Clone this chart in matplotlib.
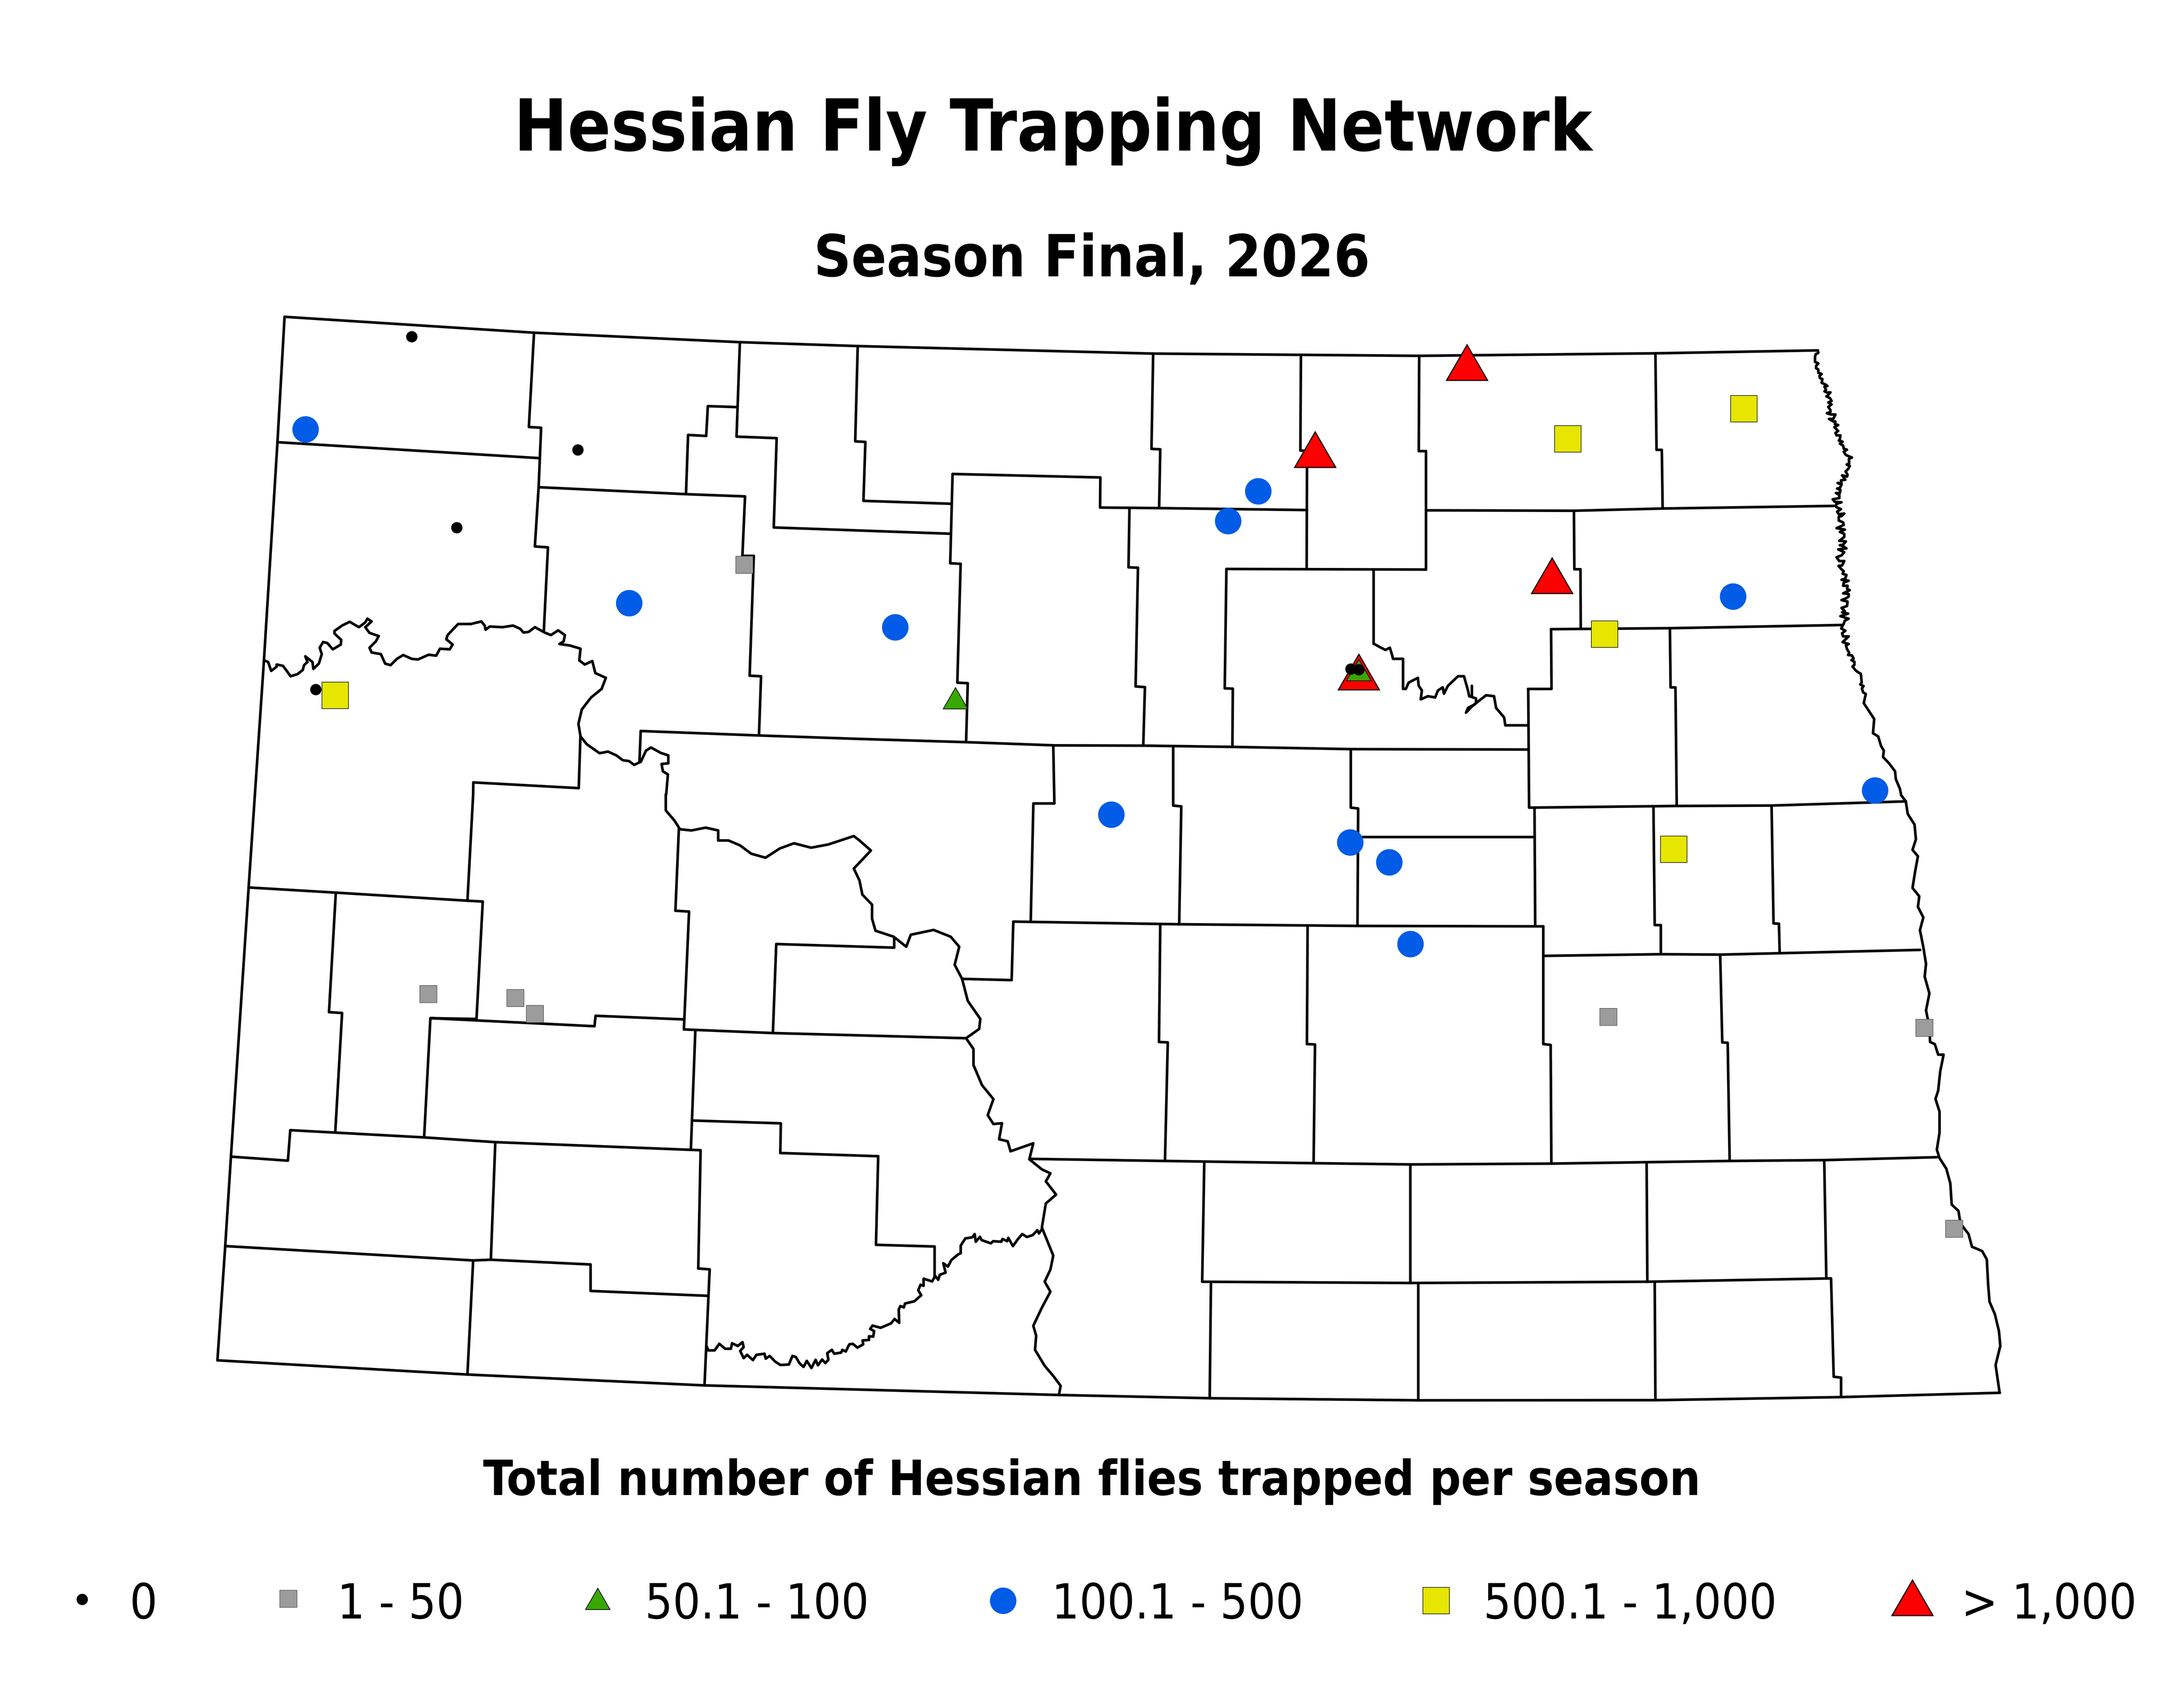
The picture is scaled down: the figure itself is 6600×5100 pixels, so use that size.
import matplotlib
matplotlib.use("Agg")
import matplotlib.pyplot as plt

W, H = 1568, 1211.6

def crop(pts, x0, y0, w, h, out_w=1568, out_h=1568):
    return [((x0 + a * w / out_w) * W / 6600, (y0 + b * h / out_h) * H / 5100) for a, b in pts]

county_lines = [
    [(204.3,227.4),(383.4,238.8),(531.2,245.6),(615.8,248.4),(827.9,253.8),(934,254.7),(1018.9,255.4),(1188.5,253.6),(1304.5,251.5)],
    [(204.3,227.4),(199.2,317.4),(189.5,474),(178.5,637),(165.8,830.2),(161.7,894.4),(156.1,976.4)],
    [(156.1,976.4),(335.6,986.6),(505.8,994.4),(761.3,1001.3),(868.5,1003.6),(1018.3,1005.1),(1188.5,1005),(1321.8,1002.8),(1435.8,999.7)],
    [(199.2,317.4),(386.7,328.8)],
    [(383.4,238.8),(379.7,306.5),(388.5,307),(386.7,349.7),(384,392.2),(393.4,392.9),(390.4,453.6)],
    [(386.7,349.7),(492.5,354.7),(534.9,356.3),(533,399),(541.2,399),(538.2,485),(546.4,485.4),(544.9,527.9)],
    [(492.5,354.7),(494,312.2),(507,312.9),(508.2,291.5),(528.8,292.2)],
    [(531.2,245.6),(528.8,313.4),(557.6,314.5),(555.5,378.6),(682.4,383.1)],
    [(615.8,248.4),(614,316.8),(621.3,317.2),(619.9,359.5),(683.1,361.6)],
    [(460,524.7),(544.9,527.9),(617.6,530.4),(693.6,532.7),(757.1,535),(820.8,535.2),(884.8,536.1),(969.7,537.7),(1097.2,538)],
    [(460,524.7),(459.1,546.8)],
    [(416.7,528.6),(415.5,565.7),(339.8,561.6),(339.7,570.2),(335.6,646.5)],
    [(178.5,637),(241.1,640.7),(335.6,646.5),(346.6,647.1),(342.1,731.4),(309,730.8),(426.8,736.6),(427.6,729.1),(491,731.7)],
    [(241.1,640.7),(236.2,726.5),(245.6,727.1),(240.7,812.6)],
    [(309,730.8),(304.5,816.4)],
    [(487.4,594.7),(484.9,653.7),(494.7,654.3),(491,738.9),(554.9,741.5),(693.6,745.2)],
    [(554.9,741.5),(557.3,677.6),(642,680.2),(642,673.3)],
    [(499.2,740),(496,825.3)],
    [(165.8,830.2),(206.7,833.1),(208.4,811.2),(304.5,816.4),(355.6,819.8),(503,825.6),(501.3,910.5),(509.5,911.1),(505.8,994.4)],
    [(355.6,819.8),(352.4,904.2)],
    [(161.7,894.4),(339.7,904.7),(352.4,904.2),(424,907.6),(424,926.6),(507.8,930.1)],
    [(339.7,904.7),(335.6,986.6)],
    [(497.6,804.3),(560.6,806.3),(560.2,827.6),(630.5,829.9),(628.9,893.5),(671,894.7),(671,917.1)],
    [(690.7,702.6),(726.3,703.5),(727.5,661.5),(846.1,663.4),(974.6,664.6),(1108,664.9)],
    [(756.2,536),(757,576.7),(741.9,576.7),(740,661.5)],
    [(842.3,536),(842.3,578.2),(848.1,578.8),(846.6,663.4)],
    [(969.8,537.7),(969.8,579.7),(975.1,580.3),(974.6,664)],
    [(977,600.9),(1101.7,600.9)],
    [(1097.2,494.5),(1097.8,579.7),(1203.5,578.5),(1271.9,578.2),(1368.4,575.2)],
    [(1101.7,580.3),(1102.2,664.6)],
    [(1108,664.9),(1108,749.4),(1113.3,750),(1113.8,835.2)],
    [(1108,686.1),(1192.4,684.9),(1235,685.2),(1378.6,681.8)],
    [(1187.1,579.7),(1188,664),(1192.4,664),(1192.4,684.9)],
    [(1271.9,578.2),(1273.3,662.8),(1277.2,663),(1277.7,683.4)],
    [(1235,685.2),(1236.5,748.2),(1240.4,748.5),(1241.8,833.3)],
    [(833,664),(832.1,747.9),(838.4,748.2),(836.4,833)],
    [(938.8,665.2),(938.3,749.4),(944.1,749.7),(943.1,834.6)],
    [(739.5,831.8),(836.4,833.3),(943.1,834.9),(1013.4,835.8),(1113.8,835.2),(1241.8,833.3),(1309.7,832.7),(1390.7,830.6)],
    [(864.6,834.6),(863.1,920),(1012.5,920.9),(1182.7,920),(1314.6,917.6),(1316.5,988.2),(1321.8,988.8),(1321.8,1002.8)],
    [(1012.5,835.8),(1012.5,920.9)],
    [(1182.2,835.2),(1182.7,920)],
    [(1309.7,832.7),(1311.2,917.6)],
    [(869.4,921.2),(868.5,1003.6)],
    [(1018.3,921.2),(1018.3,1005.1)],
    [(1188,920.6),(1188.5,1005)],
    [(683.9,340.2),(790,342.7),(789.8,364.3),(832.2,364.7),(938.4,366.1)],
    [(683.9,340.2),(682.2,404.3),(689.7,404.7),(687.3,490),(694.8,490.4),(693.6,532.7)],
    [(827.9,253.8),(826.7,322.2),(833,322.5),(832.2,364.7)],
    [(934,254.7),(933.6,323.4),(938.4,323.6),(938.1,408.6)],
    [(810.9,364.7),(810.2,407.2),(817,407.5),(815.3,492.7),(822,493.2),(820.8,535.2)],
    [(880.5,408.4),(879.3,494.1),(885.1,494.3),(884.8,536.1)],
    [(880.5,408.4),(1023.8,408.8)],
    [(986.2,409.3),(986.2,462)],
    [(1018.9,255.4),(1018.6,323.8),(1023.8,323.8),(1023.8,408.8)],
    [(1023.8,366.3),(1130,366.6),(1193.7,365),(1318,363.1)],
    [(1130,366.6),(1130.3,408.6),(1134.7,408.6),(1134.9,451.3)],
    [(1188.5,253.6),(1189.3,322.9),(1193.1,322.9),(1193.7,365)],
    [(1113.6,451.6),(1198.9,450.9),(1323.2,448.6)],
    [(1113.6,451.6),(1113.9,494.5),(1097,494.5)],
    [(1198.9,450.9),(1199.4,493.4),(1202.9,493.4),(1203.8,578.5)],
]

# crop boxes the traces below were read from
crop_nw = (600, 900, 2000, 1500)
crop_mid = (2600, 900, 1600, 1500)
crop_ne = (4200, 900, 1900, 1500)
crop_sw = (600, 2400, 2700, 1900)
crop_se = (3000, 2300, 3200, 2000)
crop_red_a = (5450, 1040, 300, 600, 900, 1568)
crop_red_b = (5450, 1500, 300, 600, 900, 1568)
crop_lake = (2100, 3700, 1100, 450, 1568, 1350)

red_river_a = [(130,48),(135,68),(110,80),(105,100),(105,140),(135,152),(115,170),(115,190),(135,200),(135,225),(165,235),(145,250),(150,268),(172,275),(165,305),(200,318),(218,330),(190,335),(205,360),(190,372),(215,382),(245,380),(225,400),(208,412),(240,425),(255,448),(225,460),(255,475),(225,495),(245,520),(245,535),(212,545),(250,555),(290,555),(270,590),(232,590),(270,610),(290,610),(285,630),(315,638),(280,655),(315,685),(290,700),(300,720),(335,720),(330,750),(320,760),(355,770),(330,785),(360,800),(365,825),(395,833),(365,848),(385,875),(405,882),(440,895),(412,905),(415,940),(392,950),(420,960),(405,985),(382,1005),(400,1030),(395,1045),(350,1035),(380,1070),(340,1075),(345,1100),(310,1095),(345,1110),(330,1135),(305,1140),(335,1150),(330,1175),(295,1175),(325,1190),(325,1215),(265,1225),(285,1245),(345,1248),(300,1260),(295,1280)]
red_river_b = [(300,85),(340,100),(305,120),(320,140),(370,135),(345,155),(320,160),(320,190),(360,205),(365,225),(300,250),(375,262),(330,280),(370,295),(370,320),(325,350),(385,355),(360,380),(330,385),(365,395),(390,410),(315,418),(370,440),(345,465),(300,480),(325,510),(370,510),(350,545),(318,548),(345,575),(365,590),(355,610),(390,620),(378,650),(345,658),(410,665),(365,680),(360,705),(400,705),(395,730),(420,740),(360,765),(410,770),(410,790),(385,805),(345,818),(400,830),(395,865),(345,880),(375,905),(350,915),(405,925),(335,945),(410,965),(375,980),(365,1005),(342,1042),(380,1060),(350,1080),(360,1105),(410,1105),(355,1150),(410,1165),(385,1175),(395,1205),(415,1235),(405,1252),(440,1255),(455,1280),(435,1292),(462,1305),(462,1330),(445,1342),(470,1370),(490,1385),(520,1400),(525,1440),(528,1470),(515,1485),(545,1497),(530,1515),(540,1545),(565,1560)]
red_river_c = [(1187,1251),(1182,1280),(1195,1305),(1208,1330),(1205,1375),(1218,1385),(1225,1415),(1232,1430),(1230,1450),(1245,1470),(1260,1495),(1262,1520),(1272,1550),(1275,1568)]
red_river_south = [(1345,80),(1352,95),(1355,125),(1365,150),(1367,185),(1362,210),(1370,225),(1366,260),(1362,300),(1372,320),(1370,345),(1378,370),(1373,400),(1378,440),(1382,480),(1380,510),(1387,550),(1382,590),(1387,630),(1388,665),(1395,670),(1400,695),(1408,695),(1403,735),(1400,780),(1396,800),(1402,830),(1402,880),(1398,920),(1402,940),(1412,965),(1418,1000),(1420,1050),(1430,1065),(1433,1095),(1445,1120),(1450,1150),(1465,1160),(1472,1180),(1474,1240),(1476,1280),(1484,1310),(1490,1350),(1492,1385),(1485,1430),(1491,1496)]
missouri_west = [(155,1145),(165,1150),(170,1170),(172,1178),(185,1165),(185,1158),(200,1162),(210,1180),(218,1195),(235,1188),(247,1175),(250,1160),(258,1150),(253,1132),(270,1150),(272,1172),(285,1155),(292,1125),(287,1105),(295,1087),(305,1090),(318,1110),(337,1095),(338,1080),(322,1060),(322,1052),(340,1035),(358,1023),(380,1040),(395,1025),(400,1013),(410,1022),(395,1040),(405,1058),(427,1068),(420,1085),(405,1105),(410,1120),(432,1125),(442,1155),(455,1160),(470,1140),(485,1128),(505,1140),(520,1142),(545,1127),(563,1130),(572,1108),(595,1110),(602,1095),(587,1078),(590,1065),(615,1030),(645,1030),(670,1022),(678,1035),(680,1048),(690,1038),(720,1040),(745,1035),(762,1045),(770,1057),(782,1055),(797,1040),(820,1057),(835,1065),(852,1050),(868,1065),(865,1085),(855,1093),(880,1098),(905,1108),(902,1145),(915,1158),(933,1147),(940,1185),(965,1200),(955,1235),(930,1262),(908,1300),(900,1345),(905,1385),(920,1410),(950,1438),(970,1433),(990,1445),(1005,1460),(1020,1463),(1032,1475),(1048,1465),(1060,1430),(1072,1420),(1095,1437),(1113,1445),(1113,1470),(1097,1472),(1100,1495),(1112,1505),(1108,1568)]
missouri_south = [(820,0),(820,40),(835,65),(845,87),(865,90),(890,83),(912,90),(912,115),(930,115),(950,127),(970,148),(995,158),(1020,135),(1045,122),(1075,133),(1105,125),(1150,104),(1160,115),(1180,140),(1170,155),(1150,185),(1160,215),(1165,250),(1182,275),(1182,310),(1188,340),(1220,355),(1242,380),(1250,350),(1290,338),(1320,355),(1335,380),(1327,425),(1340,460),(1350,515),(1372,560),(1370,585),(1347,608),(1360,635),(1360,675),(1375,725),(1395,760),(1385,800),(1395,822),(1410,820),(1405,860),(1420,865),(1425,890),(1445,880),(1465,870),(1458,910),(1480,935),(1495,945),(1487,965),(1505,998),(1487,1020),(1480,1080),(1500,1150),(1495,1185),(1485,1215),(1495,1240),(1480,1280),(1465,1325),(1470,1350),(1468,1385),(1485,1425),(1500,1450),(1513,1475),(1510,1497)]
cannonball = [(50,1100),(58,1140),(85,1140),(105,1080),(130,1125),(155,1125),(160,1075),(185,1100),(205,1065),(210,1110),(195,1145),(210,1210),(225,1180),(250,1228),(265,1180),(300,1170),(305,1215),(322,1190),(345,1240),(368,1272),(405,1268),(420,1190),(435,1200),(450,1255),(468,1290),(482,1235),(502,1300),(520,1225),(530,1275),(548,1222),(562,1255),(575,1225),(570,1165),(590,1135),(600,1170),(630,1160),(635,1135),(650,1150),(665,1085),(680,1080),(700,1115),(725,1085),(722,1050),(750,1045),(750,1012),(768,1015),(772,965),(755,945),(765,915),(800,935),(845,895),(860,855),(880,890),(878,770),(885,738),(900,750),(905,715),(945,695),(975,640),(962,595),(972,545),(985,555),(985,490),(1022,515),(1035,465),(1048,500),(1055,455),(1080,435),(1070,350),(1090,380),(1105,320),(1135,268),(1145,260),(1145,190),(1165,125),(1195,115),(1205,85),(1210,155),(1228,110),(1235,140),(1275,170),(1285,150),(1320,155),(1325,130),(1345,150),(1350,120),(1370,195),(1390,135),(1410,85),(1430,112),(1455,95),(1475,50),(1482,80),(1495,40)]
sheyenne_a = [(1520,1092),(1530,1098),(1555,1112),(1568,1105)]
sheyenne_b = [(0,1105),(5,1125),(8,1140),(33,1140),(33,1235),(40,1235),(47,1215),(70,1200),(72,1225),(80,1240),(77,1268),(95,1258),(113,1262),(120,1240),(132,1230),(135,1250),(145,1225),(170,1195),(185,1195),(195,1240),(198,1258),(215,1265),(215,1280),(205,1290),(190,1310),(195,1295),(210,1285),(230,1265),(240,1255),(260,1258),(265,1295),(285,1325),(288,1350),(345,1350)]
sheyenne_spike = [(205,1225),(205,1260)]

rivers = [
    crop(red_river_a, *crop_red_a),
    crop(red_river_b, *crop_red_b),
    crop(red_river_c, *crop_ne),
    crop(red_river_south, *crop_se),
    crop(missouri_west, *crop_nw),
    crop(missouri_south, *crop_sw),
    crop(cannonball, *crop_lake),
    crop(sheyenne_a, *crop_mid),
    crop(sheyenne_b, *crop_ne),
    crop(sheyenne_spike, *crop_ne),
]

# trap sites by class
zero_x = [295.5, 414.9, 327.9, 226.7, 969.7, 975.5]
zero_y = [241.5, 322.9, 378.6, 494.8, 480.2, 480.6]
low_x = [534.3, 307.4, 370, 383.9, 1154.5, 1381.5, 1402.8]
low_y = [405.4, 713.3, 716.2, 727.7, 729.7, 737.6, 881.8]
mid_x = [686, 975.5]
mid_y = [503.7, 483.5]
blue_x = [219.2, 451.6, 642.7, 797.7, 903.3, 881.7, 1244.3, 1346, 969.3, 997.4, 1012.5]
blue_y = [308.1, 432.9, 450.2, 584.6, 352.5, 374, 428.1, 567.3, 604.6, 618.8, 677.6]
yellow_x = [240.7, 1125.7, 1252.1, 1151.9, 1201.6]
yellow_y = [499.1, 315, 293.4, 455.2, 609.7]
red_x = [1053.2, 944.2, 1114.2, 975.5]
red_y = [264.5, 326.9, 417.5, 486.6]

legend_labels = ["0", "1 - 50", "50.1 - 100", "100.1 - 500", "500.1 - 1,000", "> 1,000"]
legend_marker_x = [59, 207, 429, 720, 1031, 1373]
legend_marker_y = [1148, 1147.5, 1150, 1149, 1149, 1151]
legend_text_x = [93, 242, 463, 755, 1065, 1408]

styles = [
    dict(marker="o", ms=4.1, mfc="black", mec="black", mew=0),
    dict(marker="s", ms=6.2, mfc="#9C9C9C", mec="#333333", mew=0.15),
    dict(marker=(3, 0, 0), ms=10.3, mfc="#38A800", mec="black", mew=0.25),
    dict(marker="o", ms=9.6, mfc="#005CE6", mec="#005CE6", mew=0),
    dict(marker="s", ms=9.6, mfc="#E6E600", mec="black", mew=0.2),
    dict(marker=(3, 0, 0), ms=17.2, mfc="#FF0000", mec="black", mew=0.4),
]

font = dict(family="DejaVu Sans", stretch="condensed")

fig = plt.figure(figsize=(11, 8.5), dpi=600)
ax = fig.add_axes([0, 0, 1, 1])
ax.set_xlim(0, W)
ax.set_ylim(H, 0)
ax.axis("off")

for line in county_lines:
    ax.plot(*zip(*line), color="black", lw=0.95, solid_joinstyle="round", solid_capstyle="round", zorder=1)
for line in rivers:
    ax.plot(*zip(*line), color="black", lw=0.95, solid_joinstyle="round", solid_capstyle="round", zorder=1)

# biggest classes first so the small ones stay on top, as on the sheet
ax.plot(red_x, red_y, ls="none", zorder=2, **styles[5])
ax.plot(yellow_x, yellow_y, ls="none", zorder=3, **styles[4])
ax.plot(blue_x, blue_y, ls="none", zorder=4, **styles[3])
ax.plot(mid_x, mid_y, ls="none", zorder=5, **styles[2])
ax.plot(low_x, low_y, ls="none", zorder=6, **styles[1])
ax.plot(zero_x, zero_y, ls="none", zorder=7, **styles[0])

ax.text(756, 108, "Hessian Fly Trapping Network", fontsize=25.8, fontweight="bold", ha="center", va="baseline", **font)
ax.text(784, 198.4, "Season Final, 2026", fontsize=21, fontweight="bold", ha="center", va="baseline", **font)
ax.text(784, 1073, "Total number of Hessian flies trapped per season", fontsize=17.7, fontweight="bold", ha="center", va="baseline", **font)

for i in range(len(legend_labels)):
    ax.plot([legend_marker_x[i]], [legend_marker_y[i]], ls="none", **styles[i])
    ax.text(legend_text_x[i], 1161.6, legend_labels[i], fontsize=17.6, ha="left", va="baseline", **font)

fig.savefig("out.png", dpi=600, facecolor="white")
